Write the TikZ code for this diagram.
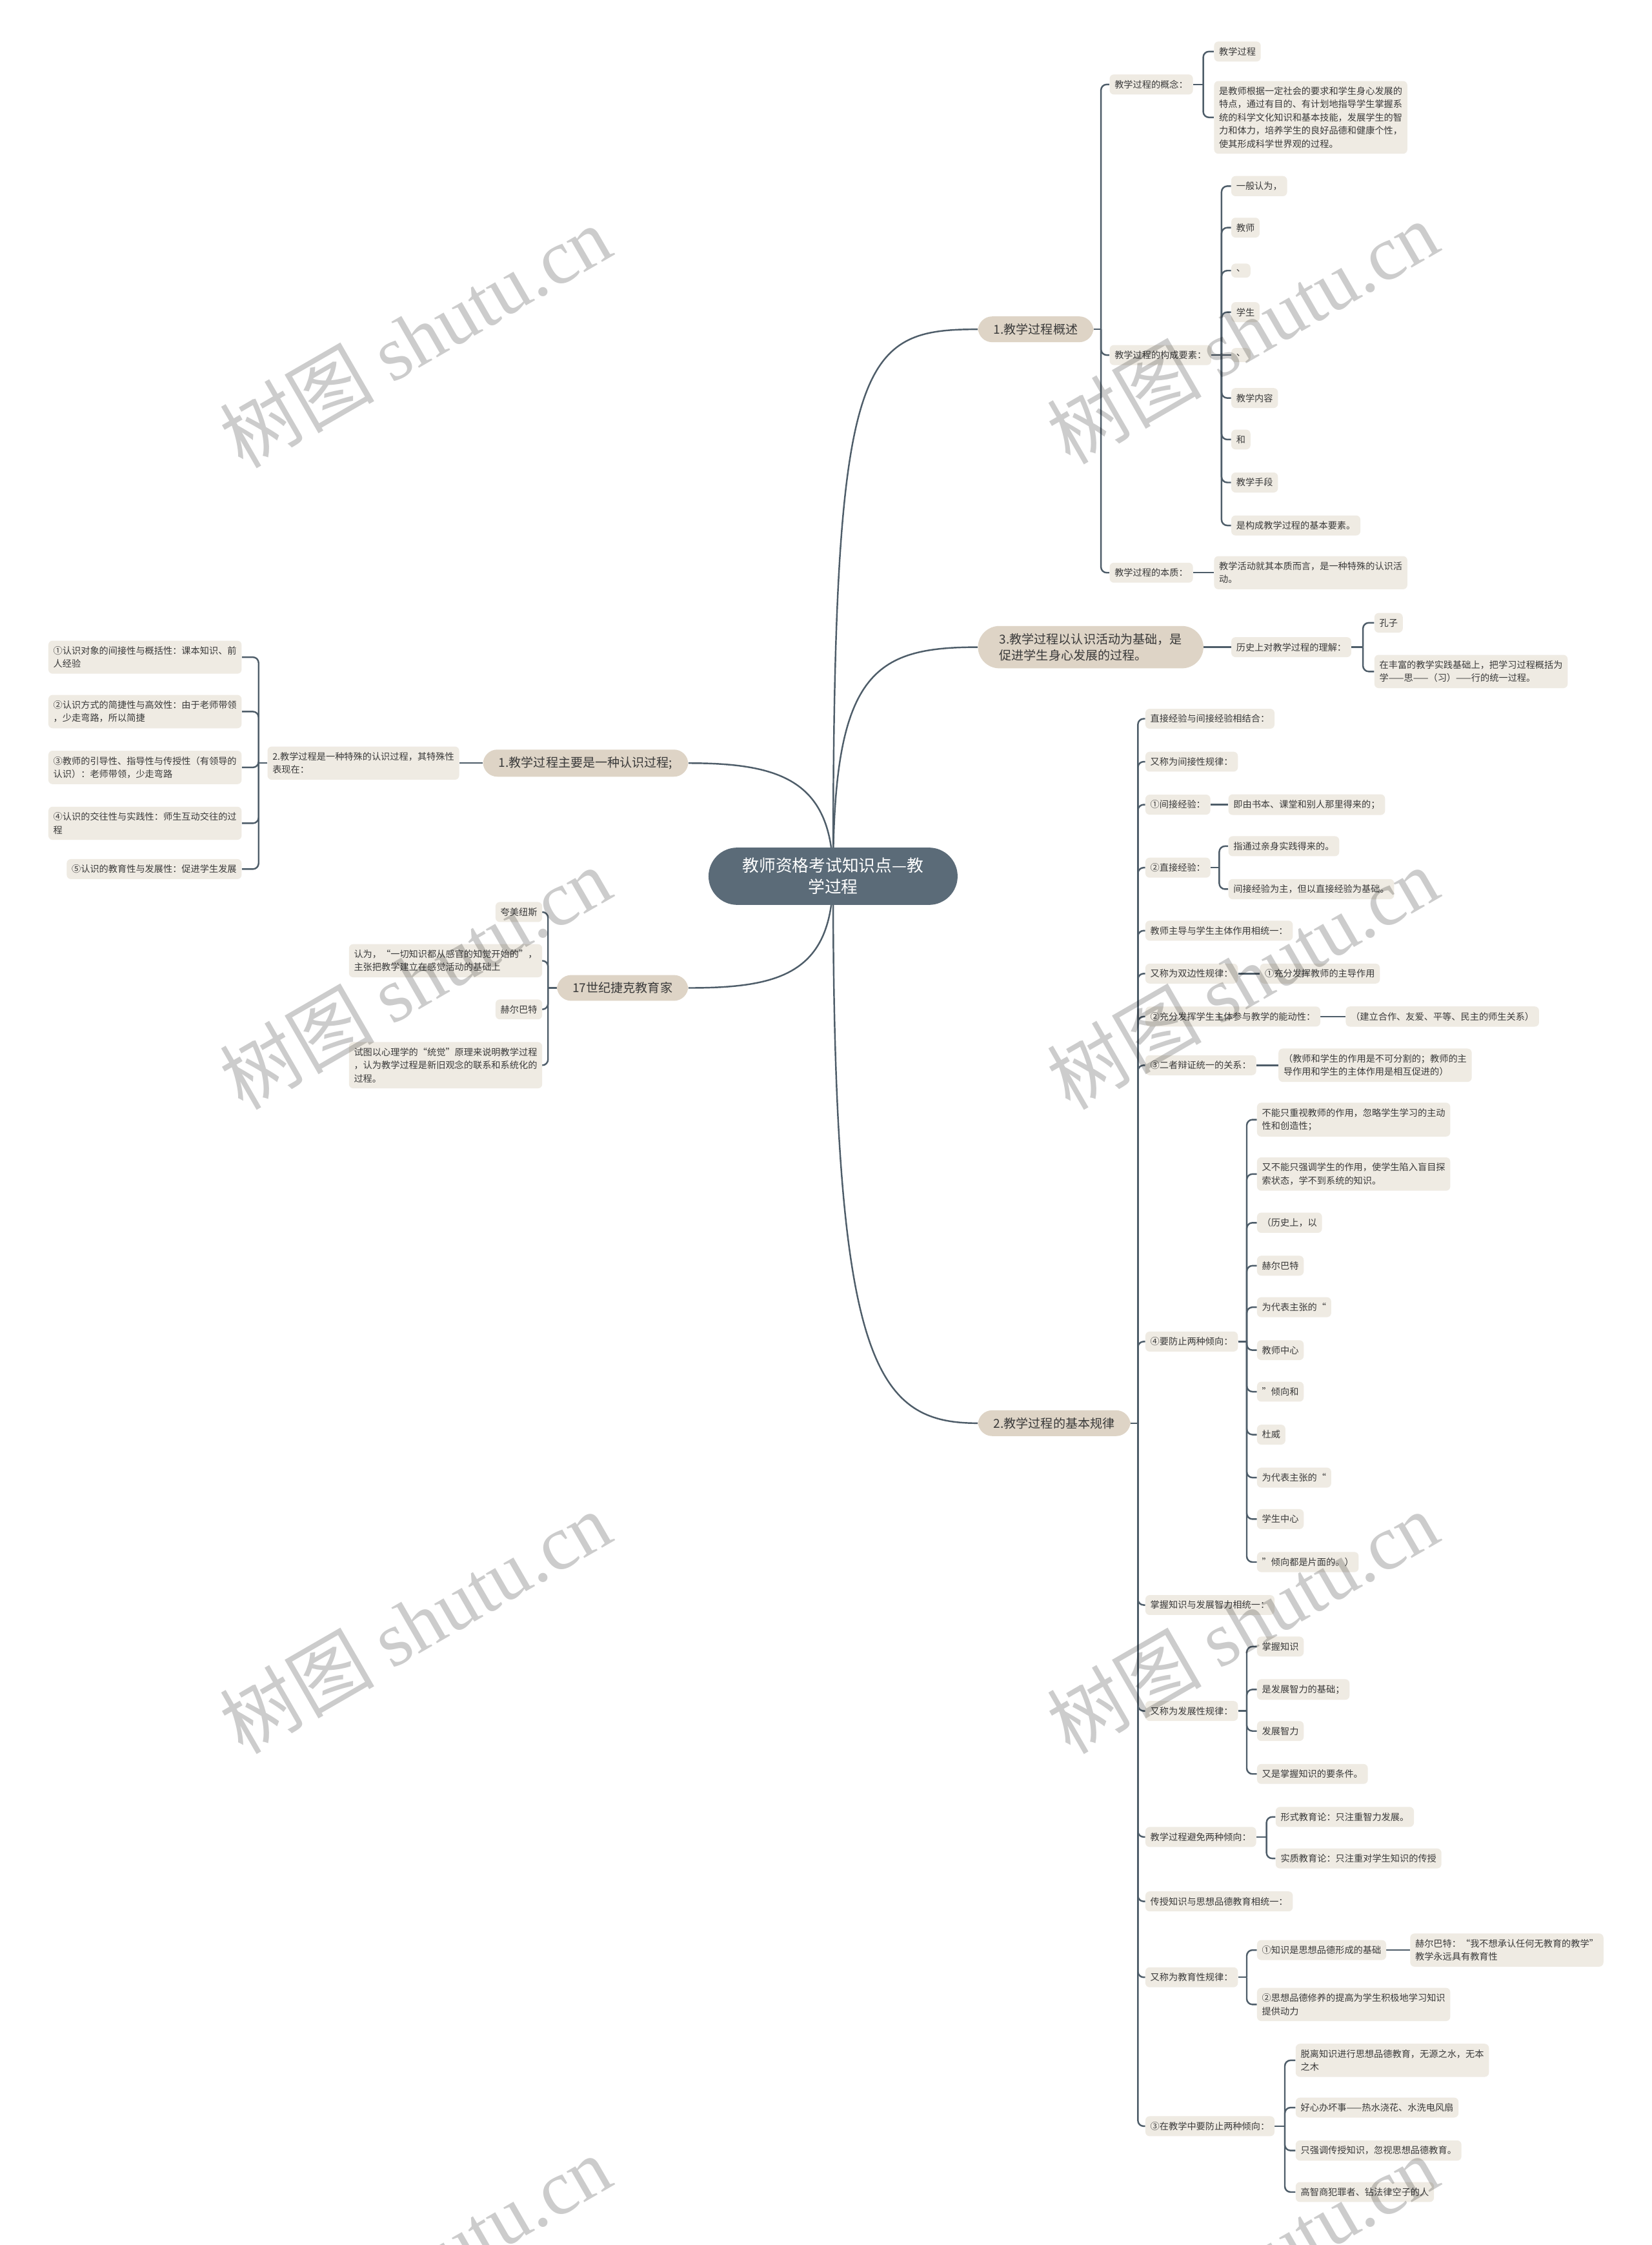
\documentclass[tikz,border=0pt]{standalone}
\usepackage{fontspec}
\setmainfont{Noto Sans CJK SC}
\newfontfamily\wmlat{Liberation Serif}
\usetikzlibrary{backgrounds}
\definecolor{lnc}{HTML}{4E5D69}
\definecolor{leaf}{HTML}{EFEBE3}
\definecolor{mainc}{HTML}{DED4C6}
\definecolor{rootc}{HTML}{5B6B78}
\definecolor{txt}{HTML}{3A3A3A}
\tikzset{
  leafnode/.style={fill=leaf, rounded corners=3pt, inner xsep=3.5pt, inner ysep=4pt,
    font=\fontsize{6.4}{9.2}\selectfont, text=txt, align=left},
  mainnode/.style={fill=mainc, rounded corners=10pt, inner xsep=11pt, inner ysep=5pt,
    font=\fontsize{8.6}{11.5}\selectfont, text=txt, align=left},
  rootnode/.style={fill=rootc, rounded corners=20pt, text=white,
    font=\fontsize{11.6}{15}\selectfont, align=center, minimum width=174pt, minimum height=40pt},
  conn/.style={draw=lnc, line width=1.1pt},
  wmark/.style={rotate=30, text=black, opacity=0.2, font=\fontsize{54}{60}\selectfont}
}
\newcommand\rcon[3]{\path (#1.east) ++(#3,0) coordinate (jn); \draw[conn] (#1.east) -- (jn); \draw[conn,rounded corners=4pt] (jn) |- (#2.west);}
\newcommand\lcon[3]{\path (#1.west) ++(-#3,0) coordinate (jn); \draw[conn] (#1.west) -- (jn); \draw[conn,rounded corners=4pt] (jn) |- (#2.east);}
\newcommand\scon[2]{\draw[conn] (#1.east) -- (#2.west);}
\newcommand\slcon[2]{\draw[conn] (#1.west) -- (#2.east);}
\begin{document}
\begin{tikzpicture}[x=1pt,y=-1pt]
\useasboundingbox (0,0) rectangle (1154,1568);
% root and main branches
\node[rootnode] (root) at (582,612) {教师资格考试知识点—教\\学过程};
\node[mainnode, anchor=west] (b1) at (683,230) {1.教学过程概述};
\node[mainnode, anchor=west, rounded corners=15pt, inner xsep=15pt] (b3) at (683,452) {3.教学过程以认识活动为基础，是\\促进学生身心发展的过程。};
\node[mainnode, anchor=west] (b2) at (683,994) {2.教学过程的基本规律};
\node[mainnode, anchor=east] (l1) at (481,533) {1.教学过程主要是一种认识过程;};
\node[mainnode, anchor=east] (l2) at (481,690) {17世纪捷克教育家};
% branch 1
\begin{scope}[every node/.style={leafnode, anchor=west}]
\node (a1) at (775,59) {教学过程的概念：};
\node (a2) at (775,248) {教学过程的构成要素：};
\node (a3) at (775,400) {教学过程的本质：};
\node (a11) at (848,36) {教学过程};
\node (a12) at (848,82) {是教师根据一定社会的要求和学生身心发展的\\特点，通过有目的、有计划地指导学生掌握系\\统的科学文化知识和基本技能，发展学生的智\\力和体力，培养学生的良好品德和健康个性，\\使其形成科学世界观的过程。};
\node (a21) at (860,130) {一般认为，};
\node (a22) at (860,159) {教师};
\node (a23) at (860,189) {、};
\node (a24) at (860,218) {学生};
\node (a25) at (860,248) {、};
\node (a26) at (860,278) {教学内容};
\node (a27) at (860,307) {和};
\node (a28) at (860,337) {教学手段};
\node (a29) at (860,367) {是构成教学过程的基本要素。};
\node (a31) at (848,400) {教学活动就其本质而言，是一种特殊的认识活\\动。};
% branch 3
\node (c1) at (860,452) {历史上对教学过程的理解：};
\node (c11) at (960,435) {孔子};
\node (c12) at (960,469) {在丰富的教学实践基础上，把学习过程概括为\\学——思——（习）——行的统一过程。};
% branch 2
\node (d1) at (800,502) {直接经验与间接经验相结合：};
\node (d2) at (800,532) {又称为间接性规律：};
\node (d3) at (800,562) {①间接经验：};
\node (d31) at (858,562) {即由书本、课堂和别人那里得来的；};
\node (d4) at (800,606) {②直接经验：};
\node (d41) at (858,591) {指通过亲身实践得来的。};
\node (d42) at (858,621) {间接经验为主，但以直接经验为基础。};
\node (d5) at (800,650) {教师主导与学生主体作用相统一：};
\node (d6) at (800,680) {又称为双边性规律：};
\node (d61) at (880,680) {①充分发挥教师的主导作用};
\node (d7) at (800,710) {②充分发挥学生主体参与教学的能动性：};
\node (d71) at (940,710) {（建立合作、友爱、平等、民主的师生关系）};
\node (d8) at (800,744) {③二者辩证统一的关系：};
\node (d81) at (893,744) {（教师和学生的作用是不可分割的；教师的主\\导作用和学生的主体作用是相互促进的）};
\node (d9) at (800,937) {④要防止两种倾向：};
\node (e1) at (878,782) {不能只重视教师的作用，忽略学生学习的主动\\性和创造性；};
\node (e2) at (878,820) {又不能只强调学生的作用，使学生陷入盲目探\\索状态，学不到系统的知识。};
\node (e3) at (878,854) {（历史上，以};
\node (e4) at (878,884) {赫尔巴特};
\node (e5) at (878,913) {为代表主张的“};
\node (e6) at (878,943) {教师中心};
\node (e7) at (878,972) {”倾向和};
\node (e8) at (878,1002) {杜威};
\node (e9) at (878,1032) {为代表主张的“};
\node (e10) at (878,1061) {学生中心};
\node (e11) at (878,1091) {”倾向都是片面的。）};
\node (d10) at (800,1121) {掌握知识与发展智力相统一：};
\node (d11) at (800,1195) {又称为发展性规律：};
\node (f1) at (878,1150) {掌握知识};
\node (f2) at (878,1180) {是发展智力的基础；};
\node (f3) at (878,1209) {发展智力};
\node (f4) at (878,1239) {又是掌握知识的要条件。};
\node (d12) at (800,1283) {教学过程避免两种倾向：};
\node (g1) at (891,1269) {形式教育论：只注重智力发展。};
\node (g2) at (891,1298) {实质教育论：只注重对学生知识的传授};
\node (d13) at (800,1328) {传授知识与思想品德教育相统一：};
\node (d14) at (800,1381) {又称为教育性规律：};
\node (h1) at (878,1362) {①知识是思想品德形成的基础};
\node (h11) at (985,1362) {赫尔巴特：“我不想承认任何无教育的教学”\\教学永远具有教育性};
\node (h2) at (878,1400) {②思想品德修养的提高为学生积极地学习知识\\提供动力};
\node (d15) at (800,1485) {③在教学中要防止两种倾向：};
\node (k1) at (905,1439) {脱离知识进行思想品德教育，无源之水，无本\\之木};
\node (k2) at (905,1472) {好心办坏事——热水浇花、水洗电风扇};
\node (k3) at (905,1502) {只强调传授知识，忽视思想品德教育。};
\node (k4) at (905,1531) {高智商犯罪者、钻法律空子的人};
\end{scope}
% left side
\begin{scope}[every node/.style={leafnode, anchor=east}]
\node (m1) at (321,533) {2.教学过程是一种特殊的认识过程，其特殊性\\表现在：};
\node (n1) at (169,459) {①认识对象的间接性与概括性：课本知识、前\\人经验};
\node (n2) at (169,497) {②认识方式的简捷性与高效性：由于老师带领\\，少走弯路，所以简捷};
\node (n3) at (169,536) {③教师的引导性、指导性与传授性（有领导的\\认识）：老师带领，少走弯路};
\node (n4) at (169,575) {④认识的交往性与实践性：师生互动交往的过\\程};
\node (n5) at (169,607) {⑤认识的教育性与发展性：促进学生发展};
\node (p1) at (379,637) {夸美纽斯};
\node (p2) at (379,671) {认为，“一切知识都从感官的知觉开始的”，\\主张把教学建立在感觉活动的基础上};
\node (p3) at (379,705) {赫尔巴特};
\node (p4) at (379,744) {试图以心理学的“统觉”原理来说明教学过程\\，认为教学过程是新旧观念的联系和系统化的\\过程。};
\end{scope}
\begin{pgfonlayer}{background}
\fill[white] (0,0) rectangle (1154,1568);
\draw[conn] (root.center) .. controls (582,250) and (600,230) .. (b1.west);
\draw[conn] (root.center) .. controls (582,470) and (610,452) .. (b3.west);
\draw[conn] (root.center) .. controls (582,950) and (610,994) .. (b2.west);
\draw[conn] (root.center) .. controls (582,545) and (545,533) .. (l1.east);
\draw[conn] (root.center) .. controls (582,680) and (545,690) .. (l2.east);
\foreach \c in {a1,a2,a3} {\rcon{b1}{\c}{5}}
\foreach \c in {a11,a12} {\rcon{a1}{\c}{7}}
\foreach \c in {a21,a22,a23,a24,a26,a27,a28,a29} {\rcon{a2}{\c}{7}}
\scon{a2}{a25}
\scon{a3}{a31}
\scon{b3}{c1}
\foreach \c in {c11,c12} {\rcon{c1}{\c}{8}}
\foreach \c in {d1,d2,d3,d4,d5,d6,d7,d8,d9,d10,d11,d12,d13,d14,d15} {\rcon{b2}{\c}{5}}
\scon{d3}{d31}
\foreach \c in {d41,d42} {\rcon{d4}{\c}{6}}
\scon{d6}{d61}
\scon{d7}{d71}
\scon{d8}{d81}
\foreach \c in {e1,e2,e3,e4,e5,e6,e7,e8,e9,e10,e11} {\rcon{d9}{\c}{6}}
\foreach \c in {f1,f2,f3,f4} {\rcon{d11}{\c}{6}}
\foreach \c in {g1,g2} {\rcon{d12}{\c}{7}}
\foreach \c in {h1,h2} {\rcon{d14}{\c}{6}}
\scon{h1}{h11}
\foreach \c in {k1,k2,k3,k4} {\rcon{d15}{\c}{7}}
\slcon{l1}{m1}
\foreach \c in {n1,n2,n3,n4,n5} {\lcon{m1}{\c}{6}}
\foreach \c in {p1,p2,p3,p4} {\lcon{l2}{\c}{6}}
\end{pgfonlayer}
% watermarks
\foreach \wx/\wy [count=\i] in {290/235,868/232,290/683,868/683,290/1133,868/1133,290/1583,868/1583}
  \node[wmark] (wm\i) at (\wx,\wy) {树图 {\wmlat shutu.cn}};
\end{tikzpicture}
\end{document}
